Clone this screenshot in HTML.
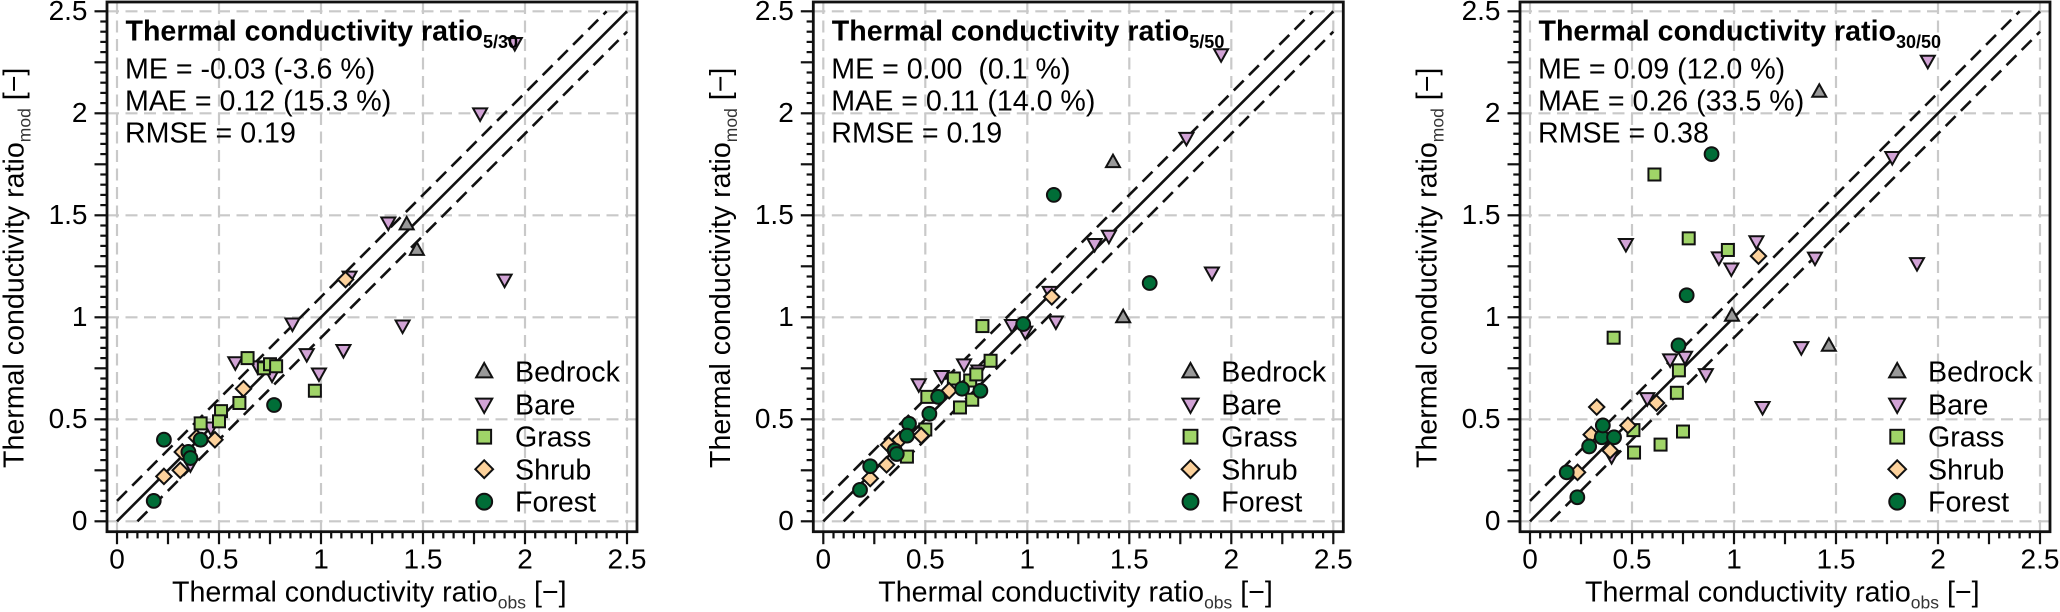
<!DOCTYPE html>
<html lang="en">
<head>
<meta charset="utf-8">
<title>Thermal conductivity ratio scatter panels</title>
<style>
html,body{margin:0;padding:0;background:#fff;width:2060px;height:612px;overflow:hidden}
svg{display:block}
text{font-family:"Liberation Sans",Arial,sans-serif;fill:#000;white-space:pre}
.t{font-size:28.6px}
.b{font-size:28.6px;font-weight:bold}
.s{font-size:17.5px;fill:#333}
.sb{font-size:18px;font-weight:bold}
</style>
</head>
<body>
<svg id="figure" xmlns="http://www.w3.org/2000/svg" width="2060" height="612" viewBox="0 0 2060 612">
  <rect width="2060" height="612" fill="#fff"/>

  <g id="panel-0">
    <g id="plot-0"></g>
    <text class="b" x="125.5" y="40.7">Thermal conductivity ratio<tspan class="sb" dy="7.5">5/30</tspan></text>
    <text class="t" x="125" y="78.3">ME = -0.03 (-3.6 %)</text>
    <text class="t" x="125" y="110.7">MAE = 0.12 (15.3 %)</text>
    <text class="t" x="125" y="142.7">RMSE = 0.19</text>
    <text class="t" x="172" y="601.7">Thermal conductivity ratio<tspan class="s" dy="7">obs</tspan><tspan dy="-7"> [−]</tspan></text>
    <text class="t" transform="translate(23.5,468) rotate(-90)">Thermal conductivity ratio<tspan class="s" dy="7">mod</tspan><tspan dy="-7"> [−]</tspan></text>
    <text class="t" x="515" y="381.7">Bedrock</text>
    <text class="t" x="515" y="414.3">Bare</text>
    <text class="t" x="515" y="446.7">Grass</text>
    <text class="t" x="515" y="479.3">Shrub</text>
    <text class="t" x="515" y="511.7">Forest</text>
  </g>

  <g id="panel-1">
    <g id="plot-1"></g>
    <text class="b" x="831.8" y="40.7">Thermal conductivity ratio<tspan class="sb" dy="7.5">5/50</tspan></text>
    <text class="t" x="831.3" y="78.3">ME = 0.00  (0.1 %)</text>
    <text class="t" x="831.3" y="110.7">MAE = 0.11 (14.0 %)</text>
    <text class="t" x="831.3" y="142.7">RMSE = 0.19</text>
    <text class="t" x="878.3" y="601.7">Thermal conductivity ratio<tspan class="s" dy="7">obs</tspan><tspan dy="-7"> [−]</tspan></text>
    <text class="t" transform="translate(729.8,468) rotate(-90)">Thermal conductivity ratio<tspan class="s" dy="7">mod</tspan><tspan dy="-7"> [−]</tspan></text>
    <text class="t" x="1221.3" y="381.7">Bedrock</text>
    <text class="t" x="1221.3" y="414.3">Bare</text>
    <text class="t" x="1221.3" y="446.7">Grass</text>
    <text class="t" x="1221.3" y="479.3">Shrub</text>
    <text class="t" x="1221.3" y="511.7">Forest</text>
  </g>

  <g id="panel-2">
    <g id="plot-2"></g>
    <text class="b" x="1538.5" y="40.7">Thermal conductivity ratio<tspan class="sb" dy="7.5">30/50</tspan></text>
    <text class="t" x="1538" y="78.3">ME = 0.09 (12.0 %)</text>
    <text class="t" x="1538" y="110.7">MAE = 0.26 (33.5 %)</text>
    <text class="t" x="1538" y="142.7">RMSE = 0.38</text>
    <text class="t" x="1585" y="601.7">Thermal conductivity ratio<tspan class="s" dy="7">obs</tspan><tspan dy="-7"> [−]</tspan></text>
    <text class="t" transform="translate(1436.5,468) rotate(-90)">Thermal conductivity ratio<tspan class="s" dy="7">mod</tspan><tspan dy="-7"> [−]</tspan></text>
    <text class="t" x="1928" y="381.7">Bedrock</text>
    <text class="t" x="1928" y="414.3">Bare</text>
    <text class="t" x="1928" y="446.7">Grass</text>
    <text class="t" x="1928" y="479.3">Shrub</text>
    <text class="t" x="1928" y="511.7">Forest</text>
  </g>
</svg>

<script>
// Tick labels
const tickValues = [0, 0.5, 1, 1.5, 2, 2.5];
const tickLabels = ['0', '0.5', '1', '1.5', '2', '2.5'];
const seriesNames = ['Bedrock', 'Bare', 'Grass', 'Shrub', 'Forest'];

// Panel 1: ratio 5/30
const p1BedrockObs = [1.42, 1.47];
const p1BedrockMod = [1.455, 1.33];
const p1BareObs = [0.36, 0.46, 0.58, 0.69, 0.76, 0.86, 0.93, 0.99, 1.11, 1.14, 1.33, 1.40, 1.78, 1.90, 1.95];
const p1BareMod = [0.28, 0.46, 0.78, 0.76, 0.72, 0.97, 0.82, 0.725, 0.84, 1.20, 1.465, 0.96, 2.0, 1.185, 2.345];
const p1GrassObs = [0.41, 0.51, 0.50, 0.60, 0.64, 0.72, 0.75, 0.78, 0.97];
const p1GrassMod = [0.48, 0.54, 0.49, 0.58, 0.80, 0.75, 0.77, 0.76, 0.64];
const p1ShrubObs = [0.23, 0.31, 0.32, 0.39, 0.48, 0.62, 1.12];
const p1ShrubMod = [0.22, 0.25, 0.34, 0.41, 0.40, 0.65, 1.185];
const p1ForestObs = [0.23, 0.18, 0.35, 0.36, 0.41, 0.77];
const p1ForestMod = [0.40, 0.10, 0.34, 0.31, 0.40, 0.57];

// Panel 2: ratio 5/50
const p2BedrockObs = [1.42, 1.47];
const p2BedrockMod = [1.76, 1.0];
const p2BareObs = [0.468, 0.58, 0.69, 0.76, 0.925, 0.99, 1.14, 1.11, 1.33, 1.40, 1.905, 1.78, 1.95];
const p2BareMod = [0.672, 0.713, 0.77, 0.74, 0.963, 0.93, 0.98, 1.125, 1.36, 1.40, 1.22, 1.88, 2.29];
const p2GrassObs = [0.41, 0.50, 0.78, 0.67, 0.73, 0.51, 0.64, 0.72, 0.75, 0.82];
const p2GrassMod = [0.317, 0.45, 0.957, 0.558, 0.596, 0.61, 0.70, 0.69, 0.72, 0.787];
const p2ShrubObs = [0.23, 0.31, 0.32, 0.375, 0.48, 0.617, 1.12];
const p2ShrubMod = [0.21, 0.277, 0.375, 0.40, 0.42, 0.64, 1.10];
const p2ForestObs = [0.18, 0.23, 0.35, 0.36, 0.42, 0.41, 0.52, 0.563, 0.68, 0.77, 0.98, 1.13, 1.60];
const p2ForestMod = [0.154, 0.27, 0.347, 0.33, 0.478, 0.42, 0.527, 0.61, 0.65, 0.64, 0.967, 1.60, 1.168];

// Panel 3: ratio 30/50
const p3BedrockObs = [0.99, 1.465, 1.418];
const p3BedrockMod = [1.007, 0.86, 2.105];
const p3BareObs = [0.40, 0.47, 0.575, 0.687, 0.76, 0.862, 0.926, 0.987, 1.11, 1.14, 1.33, 1.397, 1.776, 1.897, 1.95];
const p3BareMod = [0.32, 1.36, 0.604, 0.794, 0.807, 0.722, 1.294, 1.24, 1.373, 0.561, 0.854, 1.293, 1.786, 1.266, 2.258];
const p3GrassObs = [0.41, 0.507, 0.51, 0.64, 0.75, 0.72, 0.73, 0.778, 0.97, 0.61];
const p3GrassMod = [0.90, 0.447, 0.337, 0.376, 0.44, 0.63, 0.74, 1.387, 1.33, 1.70];
const p3ShrubObs = [0.233, 0.30, 0.327, 0.393, 0.48, 0.62, 1.12];
const p3ShrubMod = [0.24, 0.425, 0.56, 0.347, 0.47, 0.58, 1.30];
const p3ForestObs = [0.232, 0.18, 0.29, 0.352, 0.412, 0.357, 0.728, 0.89, 0.768];
const p3ForestMod = [0.118, 0.24, 0.367, 0.412, 0.412, 0.47, 0.862, 1.80, 1.108];

const panelSeries = [
  {Bedrock: [p1BedrockObs, p1BedrockMod], Bare: [p1BareObs, p1BareMod], Grass: [p1GrassObs, p1GrassMod], Shrub: [p1ShrubObs, p1ShrubMod], Forest: [p1ForestObs, p1ForestMod]},
  {Bedrock: [p2BedrockObs, p2BedrockMod], Bare: [p2BareObs, p2BareMod], Grass: [p2GrassObs, p2GrassMod], Shrub: [p2ShrubObs, p2ShrubMod], Forest: [p2ForestObs, p2ForestMod]},
  {Bedrock: [p3BedrockObs, p3BedrockMod], Bare: [p3BareObs, p3BareMod], Grass: [p3GrassObs, p3GrassMod], Shrub: [p3ShrubObs, p3ShrubMod], Forest: [p3ForestObs, p3ForestMod]}
];

const SVGNS = 'http://www.w3.org/2000/svg';
const UNIT = 204;
const Y0 = 521.3;
const FILL = {Bedrock: '#999999', Bare: '#d2a3d6', Grass: '#a0d468', Shrub: '#fdd29c', Forest: '#006d37'};

function make(parent, tag, attrs) {
  const el = document.createElementNS(SVGNS, tag);
  for (const k in attrs) el.setAttribute(k, attrs[k]);
  parent.appendChild(el);
  return el;
}

function drawMarker(parent, kind, cx, cy, k) {
  const common = {fill: FILL[kind], stroke: '#111', 'stroke-width': 2, 'stroke-linejoin': 'miter'};
  let el;
  if (kind === 'Forest') {
    el = make(parent, 'circle', Object.assign({cx: cx, cy: cy, r: 6.9 * k}, common));
  } else if (kind === 'Grass') {
    el = make(parent, 'rect', Object.assign({x: cx - 6 * k, y: cy - 6 * k, width: 12 * k, height: 12 * k}, common));
  } else if (kind === 'Shrub') {
    const d = 7.7 * k;
    el = make(parent, 'path', Object.assign({d: 'M' + cx + ' ' + (cy - d) + 'L' + (cx + d) + ' ' + cy + 'L' + cx + ' ' + (cy + d) + 'L' + (cx - d) + ' ' + cy + 'Z'}, common));
  } else if (kind === 'Bedrock') {
    el = make(parent, 'path', Object.assign({d: 'M' + cx + ' ' + (cy - 7.6 * k) + 'L' + (cx + 7 * k) + ' ' + (cy + 4.9 * k) + 'L' + (cx - 7 * k) + ' ' + (cy + 4.9 * k) + 'Z'}, common));
  } else {
    el = make(parent, 'path', Object.assign({d: 'M' + cx + ' ' + (cy + 7.6 * k) + 'L' + (cx + 7 * k) + ' ' + (cy - 4.9 * k) + 'L' + (cx - 7 * k) + ' ' + (cy - 4.9 * k) + 'Z'}, common));
  }
  return el;
}

function drawPanel(index, x0) {
  const root = document.getElementById('plot-' + index);
  const X = function (v) { return x0 + v * UNIT; };
  const Y = function (v) { return Y0 - v * UNIT; };
  const left = x0 - 10, right = x0 + 2.5 * UNIT + 10, top = 2, bottom = 531.7;

  // grid
  tickValues.forEach(function (v) {
    const gv = make(root, 'line', {x1: X(v), x2: X(v), y1: top, y2: bottom, stroke: '#c9c9c9', 'stroke-width': 2.2, 'stroke-dasharray': '12 6.5'});
    
    
    const gh = make(root, 'line', {x1: left, x2: right, y1: Y(v), y2: Y(v), stroke: '#c9c9c9', 'stroke-width': 2.2, 'stroke-dasharray': '12 6.5'});
    
    
  });

  // reference lines
  const one = make(root, 'line', {x1: X(0), y1: Y(0), x2: X(2.5), y2: Y(2.5), stroke: '#111', 'stroke-width': 2.6});
  
  
  const up = make(root, 'line', {x1: X(0), y1: Y(0.1), x2: X(2.4), y2: Y(2.5), stroke: '#111', 'stroke-width': 2.6, 'stroke-dasharray': '14 7.5'});
  
  
  const low = make(root, 'line', {x1: X(0.1), y1: Y(0), x2: X(2.5), y2: Y(2.4), stroke: '#111', 'stroke-width': 2.6, 'stroke-dasharray': '14 7.5'});
  
  

  // axes frame
  const frame = make(root, 'rect', {x: left, y: top, width: right - left, height: bottom - top, fill: 'none', stroke: '#111', 'stroke-width': 2.8});
  
  

  // minor and major ticks
  for (let i = 0; i <= 50; i++) {
    const v = i * 0.05;
    const len = i % 5 === 0 ? 12.5 : 6.7;
    const tx = make(root, 'line', {x1: X(v), x2: X(v), y1: bottom, y2: bottom + len, stroke: '#111', 'stroke-width': 2.2});
    
    
    const ty = make(root, 'line', {x1: left, x2: left - len, y1: Y(v), y2: Y(v), stroke: '#111', 'stroke-width': 2.2});
    
    
  }

  // tick labels
  tickValues.forEach(function (v, i) {
    const lx = make(root, 'text', {x: X(v), y: 568.5, 'text-anchor': 'middle', 'font-size': 28});
    
    
    lx.textContent = tickLabels[i];
    const ly = make(root, 'text', {x: x0 - 29.5, y: Y(v) + 8.5, 'text-anchor': 'end', 'font-size': 28});
    
    
    ly.textContent = tickLabels[i];
  });

  // points
  seriesNames.forEach(function (kind) {
    const obs = panelSeries[index][kind][0];
    const mod = panelSeries[index][kind][1];
    obs.forEach(function (o, j) {
      const m = drawMarker(root, kind, X(o), Y(mod[j]), 1);
      
      
    });
  });

  // legend symbols
  const legendRowGap = 32.5;
  seriesNames.forEach(function (kind, j) {
    const s = drawMarker(root, kind, X(1.8), 371.7 + j * legendRowGap, 1.15);
    
    
  });
}

drawPanel(0, 117);
drawPanel(1, 823.3);
drawPanel(2, 1530);
</script>
</body>
</html>
